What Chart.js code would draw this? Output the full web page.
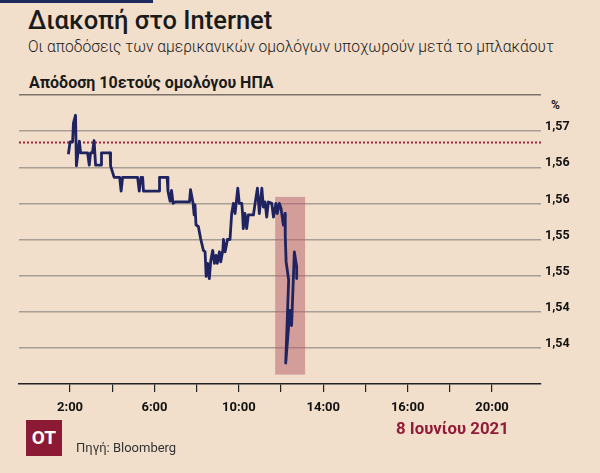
<!DOCTYPE html>
<html lang="el">
<head>
<meta charset="utf-8">
<title>Διακοπή στο Internet</title>
<script src="https://cdn.jsdelivr.net/npm/chart.js@4.4.0/dist/chart.umd.min.js"></script>
<style>
    html, body { margin: 0; padding: 0; }
    body {
        width: 600px;
        height: 473px;
        background: #f2dfcb;
        position: relative;
        overflow: hidden;
        font-family: Roboto, "Noto Sans", sans-serif;
        color: #1a1a1a;
    }
    #chartBox { position: absolute; left: 0; top: 0; width: 600px; height: 473px; }
    .topbar { position: absolute; left: 0; top: 0; width: 153px; height: 3px; background: #1e2a5e; }
    .txt { position: absolute; white-space: nowrap; }
    .title { left: 28px; top: 7px; font-size: 25.5px; line-height: 26px; font-weight: 500; }
    .subtitle { left: 28px; top: 38px; font-size: 15.6px; line-height: 18px; font-weight: 300; }
    .section { left: 29px; top: 74px; font-size: 16px; line-height: 18px; font-weight: 700; }
    .unit { left: 551px; top: 98px; font-size: 12px; line-height: 14px; font-weight: 700; }
    .date { left: 396px; top: 419px; font-size: 16.8px; line-height: 18px; font-weight: 700; color: #921c38; }
    .source { left: 76px; top: 440px; font-size: 13px; line-height: 15px; color: #333; }
    .logo {
        position: absolute; left: 26px; top: 420px; width: 36px; height: 36px;
        background: #8c1a35; color: #fff; font-size: 19px; font-weight: 700;
        line-height: 36px; text-align: center;
    }
</style>
</head>
<body>
<div class="topbar"></div>
<div class="txt title">Διακοπή στο Internet</div>
<div class="txt subtitle">Οι αποδόσεις των αμερικανικών ομολόγων υποχωρούν μετά το μπλακάουτ</div>
<div class="txt section">Απόδοση 10ετούς ομολόγου ΗΠΑ</div>
<div class="txt unit">%</div>
<div id="chartBox"><canvas id="yieldChart" width="600" height="473"></canvas></div>
<div class="logo">OT</div>
<div class="txt source">Πηγή: Bloomberg</div>
<div class="txt date">8 Ιουνίου 2021</div>

<script>
// Time of day (hours) and 10y yield (%)
const timeHours = [
    1.92, 2.00, 2.12, 2.16, 2.26, 2.30, 2.44, 2.50, 2.83, 2.91,
    2.97, 3.06, 3.14, 3.21, 3.47, 3.49, 3.90, 3.92, 4.09, 4.35,
    4.42, 4.49, 5.20, 5.28, 5.36, 5.44, 5.48, 6.22, 6.24, 6.60,
    6.64, 6.74, 6.81, 6.88, 6.98, 7.66, 7.71, 7.83, 7.88, 7.92,
    7.97, 8.08, 8.19, 8.32, 8.40, 8.45, 8.52, 8.60, 8.67, 8.76,
    8.84, 8.92, 8.98, 9.08, 9.14, 9.24, 9.27, 9.35, 9.46, 9.58,
    9.66, 9.74, 9.82, 9.95, 10.02, 10.14, 10.18, 10.21, 10.29, 10.37,
    10.45, 10.69, 10.77, 10.88, 10.97, 11.09, 11.16, 11.24, 11.32, 11.40,
    11.56, 11.64, 11.76, 11.82, 11.92, 12.00, 12.11, 12.19, 12.20, 12.24,
    12.36, 12.22, 12.42, 12.50, 12.63, 12.74, 12.74
];
const yieldValues = [
    1.5668, 1.5685, 1.5685, 1.5711, 1.5722, 1.5652, 1.5686, 1.5670, 1.5670, 1.5653,
    1.5670, 1.5670, 1.5687, 1.5653, 1.5653, 1.5670, 1.5670, 1.5652, 1.5636, 1.5636,
    1.5617, 1.5636, 1.5636, 1.5617, 1.5636, 1.5636, 1.5617, 1.5617, 1.5636, 1.5636,
    1.5617, 1.5603, 1.5618, 1.5600, 1.5602, 1.5602, 1.5619, 1.5600, 1.5584, 1.5598,
    1.5570, 1.5568, 1.5551, 1.5535, 1.5533, 1.5499, 1.5517, 1.5496, 1.5521, 1.5535,
    1.5517, 1.5528, 1.5517, 1.5533, 1.5519, 1.5535, 1.5550, 1.5533, 1.5550, 1.5550,
    1.5586, 1.5600, 1.5586, 1.5621, 1.5600, 1.5600, 1.5584, 1.5565, 1.5586, 1.5565,
    1.5584, 1.5584, 1.5600, 1.5621, 1.5586, 1.5621, 1.5595, 1.5602, 1.5581, 1.5602,
    1.5600, 1.5581, 1.5600, 1.5586, 1.5600, 1.5593, 1.5570, 1.5586, 1.5554, 1.5519,
    1.5494, 1.5379, 1.5452, 1.5431, 1.5533, 1.5512, 1.5496
];

// Axis ticks (labels as printed on the original)
const xTickValues = [2, 4, 6, 8, 10, 12, 14, 16, 18, 20, 22];
const xTickLabels = ["2:00", "", "6:00", "", "10:00", "", "14:00", "", "16:00", "", "20:00"];
const yTickValues = [1.535, 1.54, 1.545, 1.55, 1.555, 1.56, 1.565, 1.57, 1.575];
const yTickLabels = ["", "1,54", "1,54", "1,55", "1,55", "1,56", "1,56", "1,57", ""];
const xBounds = [-0.42, 24.32];
const yBounds = [1.535, 1.575];

// Reference level (dotted) and blackout window (shaded)
const referenceLevel = 1.5685;
const blackoutHours = [11.72, 13.14];
const blackoutYields = [1.5363, 1.5609];

const colors = {
    line: "#1f2461",
    grid: "#a99e94",
    gridTop: "#7d736b",
    axis: "#222222",
    label: "#111111",
    dotted: "#a3253d",
    shade: "rgba(180, 93, 105, 0.5)"
};

const fontFamily = "Roboto, 'Noto Sans', sans-serif";

// Draws the shaded blackout box and the dotted reference line
const markersPlugin = {
    id: "markers",
    beforeDatasetsDraw(chart) {
        const { ctx, chartArea, scales } = chart;
        const x = scales.x;
        const y = scales.y;
        ctx.save();

        const left = x.getPixelForValue(blackoutHours[0]);
        const right = x.getPixelForValue(blackoutHours[1]);
        const top = y.getPixelForValue(blackoutYields[1]);
        const bottom = y.getPixelForValue(blackoutYields[0]);
        ctx.fillStyle = colors.shade;
        ctx.fillRect(left, top, right - left, bottom - top);

        const refY = Math.round(y.getPixelForValue(referenceLevel)) + 0.5;
        ctx.strokeStyle = colors.dotted;
        ctx.lineWidth = 2;
        ctx.setLineDash([2, 2]);
        ctx.beginPath();
        ctx.moveTo(chartArea.left, refY);
        ctx.lineTo(chartArea.right, refY);
        ctx.stroke();

        ctx.restore();
    }
};

function initYieldChart(canvasId) {
    const canvas = document.getElementById(canvasId);
    if (!canvas || !window.Chart) {
        console.error("Canvas element or Chart.js not found");
        return;
    }
    const ctx = canvas.getContext("2d");
    const points = timeHours.map((h, i) => ({ x: h, y: yieldValues[i] }));

    new Chart(ctx, {
        type: "line",
        data: {
            datasets: [
                {
                    data: points,
                    borderColor: colors.line,
                    borderWidth: 2.8,
                    borderJoinStyle: "round",
                    pointRadius: 0,
                    tension: 0,
                    fill: false
                }
            ]
        },
        options: {
            responsive: false,
            animation: false,
            layout: {
                padding: { top: 95, left: 19, right: 0, bottom: 0 }
            },
            plugins: {
                legend: { display: false },
                tooltip: { enabled: false }
            },
            scales: {
                x: {
                    type: "linear",
                    min: xBounds[0],
                    max: xBounds[1],
                    afterBuildTicks: function(scale) {
                        scale.ticks = xTickValues.map(v => ({ value: v }));
                    },
                    afterFit: function(scale) {
                        scale.height = 89;
                    },
                    grid: {
                        drawOnChartArea: false,
                        drawTicks: true,
                        tickLength: 8,
                        color: colors.axis,
                        lineWidth: 1.2
                    },
                    border: { display: true, color: colors.axis, width: 1.5 },
                    ticks: {
                        padding: 8,
                        autoSkip: false,
                        maxRotation: 0,
                        color: colors.label,
                        font: { family: fontFamily, size: 13, weight: "bold" },
                        callback: function(value, index) {
                            return xTickLabels[index];
                        }
                    }
                },
                y: {
                    position: "right",
                    min: yBounds[0],
                    max: yBounds[1],
                    afterBuildTicks: function(scale) {
                        scale.ticks = yTickValues.map(v => ({ value: v }));
                    },
                    afterFit: function(scale) {
                        scale.width = 59;
                    },
                    grid: {
                        drawTicks: false,
                        lineWidth: 1.5,
                        color: function(c) {
                            if (c.index === 0) return "rgba(0,0,0,0)";
                            if (c.index === yTickValues.length - 1) return colors.gridTop;
                            return colors.grid;
                        }
                    },
                    border: { display: false },
                    ticks: {
                        padding: 4,
                        labelOffset: -4,
                        color: colors.label,
                        font: { family: fontFamily, size: 12.5, weight: "bold" },
                        callback: function(value, index) {
                            return yTickLabels[index];
                        }
                    }
                }
            }
        },
        plugins: [markersPlugin]
    });
}

initYieldChart("yieldChart");
</script>
</body>
</html>
